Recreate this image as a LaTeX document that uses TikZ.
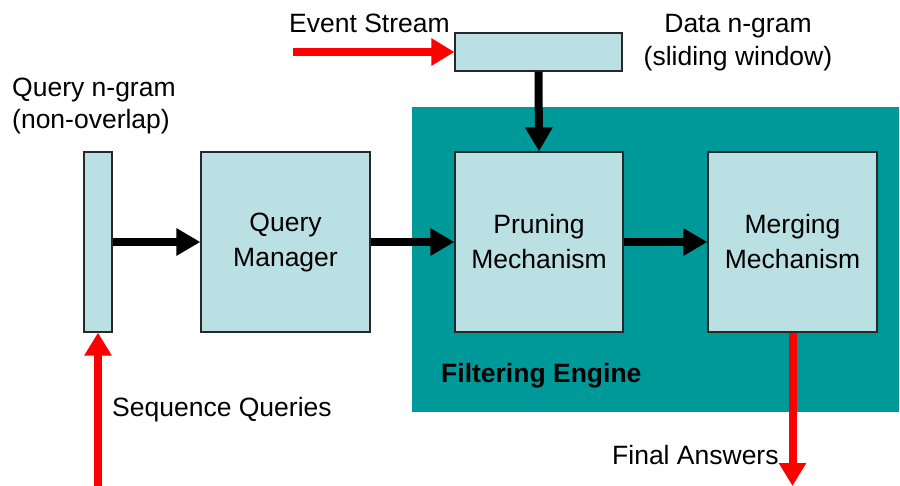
\documentclass[tikz,border=0pt]{standalone}
\usepackage{fontspec}
\setmainfont{Liberation Sans}
\usetikzlibrary{arrows.meta}
\definecolor{tealbg}{RGB}{0,153,153}
\definecolor{boxfill}{RGB}{187,224,227}
\definecolor{boxline}{RGB}{40,40,40}
\tikzset{
  blk/.style={draw=boxline, line width=1.2pt, fill=boxfill, inner sep=0pt, align=center,
    font=\fontsize{26.5}{35}\selectfont},
  lbl/.style={inner sep=0pt, font=\fontsize{26.5}{32}\selectfont},
  blackarrow/.style={line width=8pt, draw=black, -{Triangle[length=24pt,width=26pt]}},
  redarrow/.style={line width=8pt, draw=red, -{Triangle[length=23pt,width=26pt]}},
}
\begin{document}
\begin{tikzpicture}[x=1pt,y=-1pt]
\useasboundingbox (0,0) rectangle (900,486);
\fill[tealbg] (412,107) rectangle (899,412);
\coordinate (engine) at (412,107);

\node[blk, minimum width=167pt, minimum height=38pt] (data) at (538.5,52) {};
\node[blk, minimum width=28pt, minimum height=180pt] (qgram) at (98,242) {};
\node[blk, minimum width=169pt, minimum height=180pt] (qm) at (285.5,242) {\raisebox{-3pt}{Query}\\\raisebox{-3pt}{Manager}};
\node[blk, minimum width=168pt, minimum height=180pt] (prune) at (539,242) {\raisebox{-3pt}{Pruning}\\\raisebox{-3pt}{Mechanism}};
\node[blk, minimum width=169pt, minimum height=180pt] (merge) at (792.5,242) {\raisebox{-3pt}{Merging}\\\raisebox{-3pt}{Mechanism}};

\node[lbl, anchor=base west] (evs) at (289,33) {Event Stream};
\node[lbl, anchor=base] (dng1) at (738,33) {Data n-gram};
\node[lbl, anchor=base] (dng2) at (738,66) {(sliding window)};
\node[lbl, anchor=base west] (qng1) at (12,97) {Query n-gram};
\node[lbl, anchor=base west] (qng2) at (12,129) {(non-overlap)};
\node[lbl, anchor=base west, font=\fontsize{26.5}{32}\selectfont\bfseries] (fe) at (441,382) {Filtering Engine};
\node[lbl, anchor=base west] (sq) at (112,417) {Sequence Queries};
\node[lbl, anchor=base west] (fa) at (612,464) {Final Answers};

\coordinate (evsrc) at (293,52);
\coordinate (sqsrc) at (98,486);
\coordinate (fadst) at (792.5,486);

\draw[redarrow] (evsrc) -- (data.west);
\draw[redarrow] (sqsrc) -- (qgram.south);
\draw[redarrow] (merge.south) -- (fadst);
\draw[blackarrow] (data.south) -- (prune.north);
\draw[blackarrow] (qgram.east) -- (qm.west);
\draw[blackarrow] (qm.east) -- (prune.west);
\draw[blackarrow] (prune.east) -- (merge.west);
\end{tikzpicture}
\end{document}
